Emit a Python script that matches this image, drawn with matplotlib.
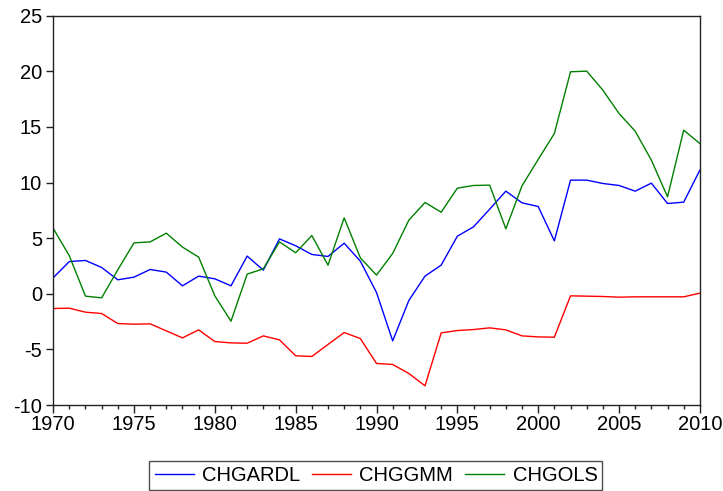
import numpy as np
import matplotlib.pyplot as plt
from matplotlib.ticker import MultipleLocator

plt.rcParams['font.family'] = ['Liberation Sans Narrow', 'Liberation Sans', 'DejaVu Sans']
plt.rcParams['axes.unicode_minus'] = False

years = np.arange(1970, 2011)

chgardl = [1.44, 2.90, 3.00, 2.37, 1.26, 1.50, 2.19, 1.95, 0.72, 1.59,
           1.35, 0.72, 3.39, 2.13, 4.94, 4.32, 3.54, 3.36, 4.55, 2.94,
           0.12, -4.23, -0.60, 1.59, 2.58, 5.18, 6.02, 7.61, 9.23, 8.18,
           7.85, 4.76, 10.22, 10.22, 9.92, 9.74, 9.23, 9.95, 8.12, 8.24,
           11.12]
chggmm = [-1.32, -1.29, -1.65, -1.77, -2.67, -2.73, -2.70, -3.33, -3.96, -3.24,
          -4.29, -4.41, -4.44, -3.78, -4.14, -5.57, -5.63, -4.55, -3.48, -4.02,
          -6.26, -6.35, -7.16, -8.27, -3.51, -3.30, -3.21, -3.06, -3.24, -3.78,
          -3.87, -3.90, -0.18, -0.21, -0.24, -0.30, -0.27, -0.27, -0.27, -0.27,
          0.06]
chgols = [5.90, 3.42, -0.21, -0.36, 2.16, 4.58, 4.67, 5.45, 4.20, 3.30,
          -0.18, -2.46, 1.77, 2.25, 4.67, 3.69, 5.24, 2.58, 6.83, 3.24,
          1.68, 3.63, 6.62, 8.21, 7.34, 9.50, 9.74, 9.77, 5.84, 9.71,
          12.08, 14.41, 19.96, 20.02, 18.31, 16.21, 14.62, 12.02, 8.72, 14.71,
          13.51]

fig = plt.figure(figsize=(7.23, 4.91), dpi=100)
ax = fig.add_axes([0.0735, 0.175, 0.8945, 0.793])

ax.plot(years, chgardl, color='#0000ff', lw=1.0, label='CHGARDL')
ax.plot(years, chggmm, color='#ff0000', lw=1.0, label='CHGGMM')
ax.plot(years, chgols, color='#008000', lw=1.0, label='CHGOLS')

ax.set_xlim(1970, 2010)
ax.set_ylim(-10, 25)
ax.xaxis.set_major_locator(MultipleLocator(5))
ax.xaxis.set_minor_locator(MultipleLocator(1))
ax.yaxis.set_major_locator(MultipleLocator(5))

for s in ax.spines.values():
    s.set_color('#222222')
    s.set_linewidth(1.0)

ax.tick_params(axis='x', which='major', direction='out', length=5.8,
               width=1.0, labelsize=14.5, color='#222222', pad=1.5)
ax.tick_params(axis='x', which='minor', direction='out', length=3,
               width=1.0, color='#222222')
ax.tick_params(axis='y', which='major', direction='out', length=5,
               width=1.0, labelsize=14.5, color='#222222', pad=3)

leg = fig.legend(loc='lower center', bbox_to_anchor=(0.520, 0.002), ncol=3,
                 fontsize=14.5, frameon=True, fancybox=False,
                 handlelength=1.95, columnspacing=0.6, handletextpad=0.4,
                 borderpad=0.25, borderaxespad=0)
leg.get_frame().set_edgecolor('#222222')
leg.get_frame().set_linewidth(1.0)

fig.savefig('out.png', dpi=100)
